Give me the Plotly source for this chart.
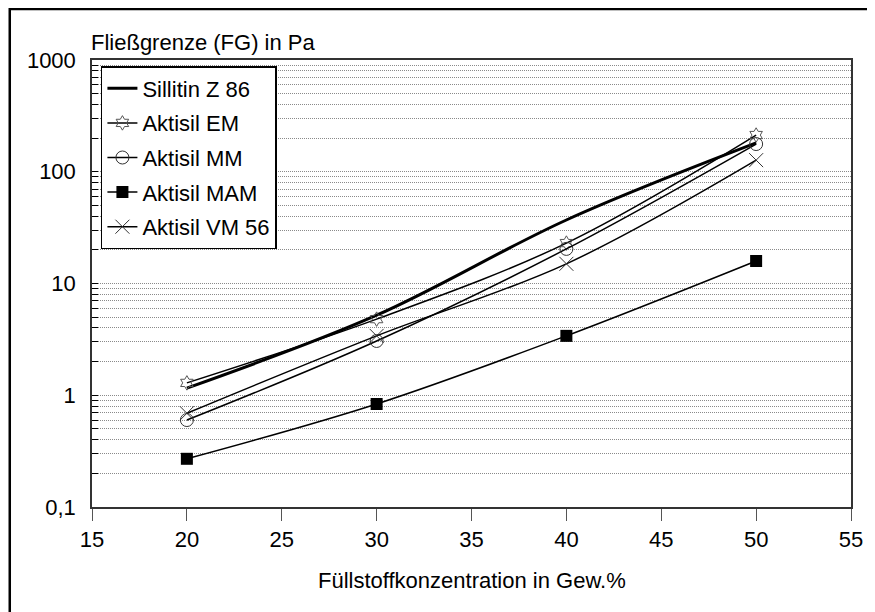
import plotly.graph_objects as go

# ---- data ----
konz = [20, 30, 40, 50]
sillitin_z86 = [1.16, 5.2, 37, 181]
aktisil_em = [1.29, 4.8, 23, 213]
aktisil_mm = [0.60, 3.06, 20.4, 177]
aktisil_mam = [0.27, 0.835, 3.4, 15.9]
aktisil_vm56 = [0.69, 3.4, 15, 127]

x_ticks = [15, 20, 25, 30, 35, 40, 45, 50, 55]
decades = [0.1, 1, 10, 100, 1000]
decade_labels = ["0,1", "1", "10", "100", "1000"]

# ---- geometry (page pixels; the page body has an 8px margin) ----
OFF = 8
W, H = 875 - OFF, 612 - OFF
L, R, T, B = 92 - OFF, 858 - OFF, 60 - OFF, 507 - OFF
def px_x(p):  # p in page pixels
    return (p - OFF - L) / (R - L)
def px_y(p):
    return (B - (p - OFF)) / (B - T)

FONT = "Liberation Sans, Arial, sans-serif"

fig = go.Figure()

series = [
    ("Sillitin Z 86", sillitin_z86, dict(mode="lines", line=dict(color="black", width=3))),
    ("Aktisil EM", aktisil_em, dict(mode="lines+markers", line=dict(color="black", width=1.5),
                                    marker=dict(symbol="hexagram-open", size=11, color="#555",
                                                line=dict(width=1, color="#555")))),
    ("Aktisil MM", aktisil_mm, dict(mode="lines+markers", line=dict(color="black", width=1.5),
                                    marker=dict(symbol="circle-open", size=13, color="#333",
                                                line=dict(width=1, color="#333")))),
    ("Aktisil MAM", aktisil_mam, dict(mode="lines+markers", line=dict(color="black", width=1.5),
                                      marker=dict(symbol="square", size=12, color="black"))),
    ("Aktisil VM 56", aktisil_vm56, dict(mode="lines+markers", line=dict(color="black", width=1.5),
                                         marker=dict(symbol="x-thin-open", size=14, color="#333",
                                                     line=dict(width=1, color="#333")))),
]
for name, vals, style in series:
    style["line"]["shape"] = "spline"
    fig.add_trace(go.Scatter(x=konz, y=vals, name=name, legendgroup=name, **style))

# minor + major grid values
grid_vals = []
for d in decades[:-1]:
    for k in range(1, 10):
        grid_vals.append(round(d * k, 6))
grid_vals.append(1000)
grid_text = [decade_labels[decades.index(v)] if v in decades else "" for v in grid_vals]

fig.update_layout(
    width=W, height=H,
    margin=dict(l=L, r=W - R, t=T, b=H - B),
    paper_bgcolor="white", plot_bgcolor="white",
    font=dict(family=FONT, size=22, color="black"),
    showlegend=True,
    legend=dict(
        x=px_x(101), y=px_y(66), xanchor="left", yanchor="top",
        bgcolor="white", bordercolor="black", borderwidth=1.5,
        font=dict(size=22), itemwidth=30, tracegroupgap=3,
        traceorder="grouped",
    ),
    xaxis=dict(
        range=[15, 55], tickvals=x_ticks, ticks="outside", ticklen=12,
        tickcolor="#555", showgrid=False, zeroline=False,
        showline=True, mirror=True, linecolor="#333", linewidth=1.5,
        tickfont=dict(size=22),
    ),
    yaxis=dict(
        type="log", range=[-1, 3], tickvals=grid_vals, ticktext=grid_text,
        ticks="inside", ticklen=6, tickcolor="black", ticklabelstandoff=10,
        showgrid=True, gridcolor="#8a8a8a", gridwidth=1, griddash="1px,1px",
        zeroline=False, showline=True, mirror=True, linecolor="#333", linewidth=1.5,
        tickfont=dict(size=22),
    ),
    annotations=[
        dict(text="Fließgrenze (FG) in Pa", xref="paper", yref="paper",
             x=px_x(89), y=px_y(42), xanchor="left", yanchor="middle",
             showarrow=False, font=dict(size=22)),
        dict(text="Füllstoffkonzentration in Gew.%", xref="paper", yref="paper",
             x=0.5, y=px_y(580), xanchor="center", yanchor="middle",
             showarrow=False, font=dict(size=22)),
    ],
    shapes=[
        dict(type="rect", xref="paper", yref="paper",
             x0=px_x(9), y0=px_y(9), x1=px_x(900), y1=px_y(640),
             line=dict(color="black", width=2.5), fillcolor="rgba(0,0,0,0)", layer="above"),
    ],
)

fig.write_html("out.html")
